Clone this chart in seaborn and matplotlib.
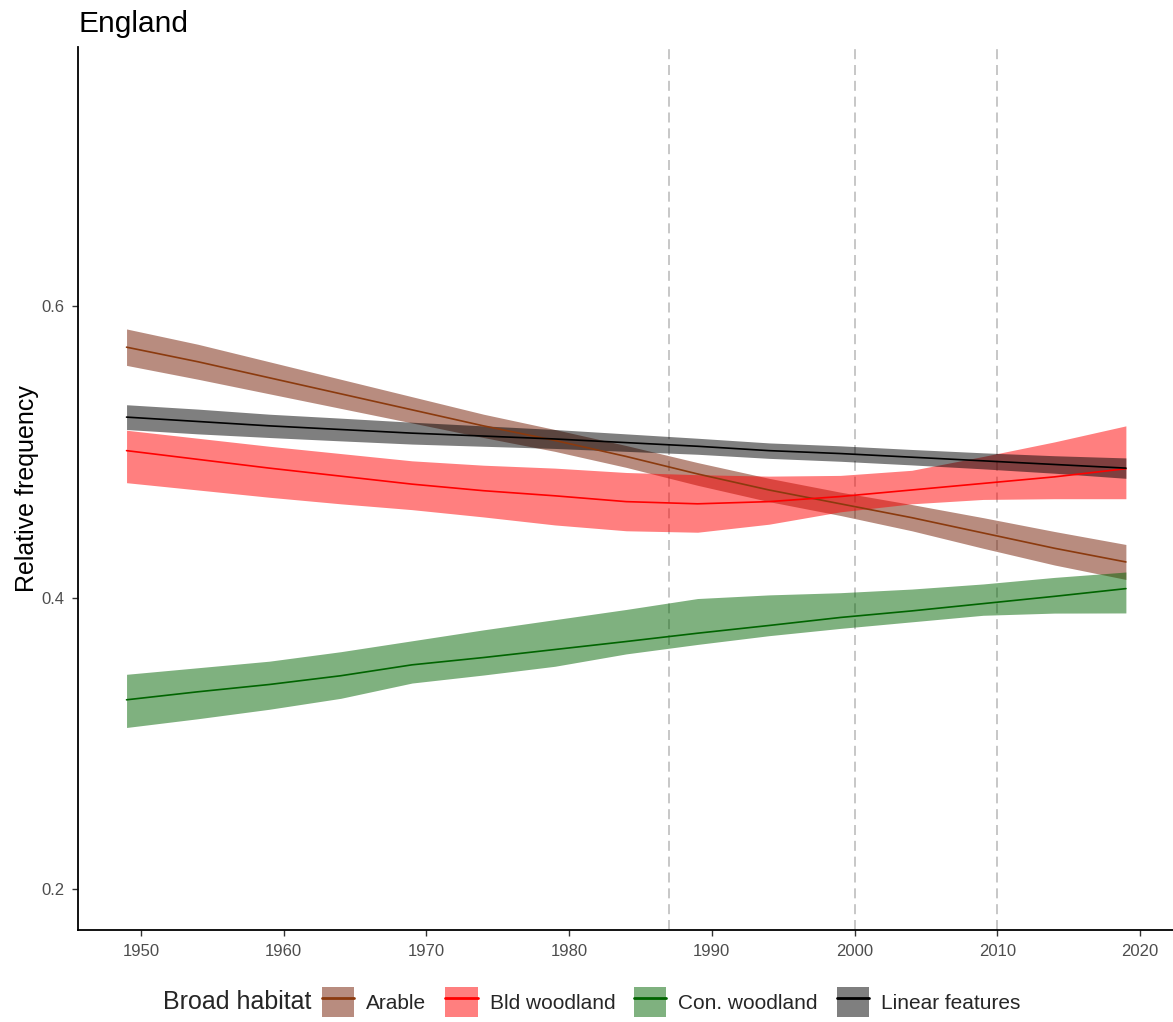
import numpy as np
import pandas as pd
import matplotlib
matplotlib.use("Agg")
import matplotlib.pyplot as plt
from matplotlib.patches import Patch
from matplotlib.lines import Line2D
import seaborn as sns

# Modelled relative frequency by broad habitat (fit with confidence band)
years = [1949, 1954, 1959, 1964, 1969, 1974, 1979, 1984, 1989, 1994, 1999, 2004, 2009, 2014, 2019]

arable_fit = [0.572, 0.562, 0.551, 0.540, 0.529, 0.518, 0.508, 0.497, 0.485, 0.474, 0.4645, 0.455, 0.4445, 0.434, 0.4246]
arable_lo = [0.5595, 0.550, 0.540, 0.530, 0.520, 0.510, 0.5005, 0.4895, 0.4772, 0.466, 0.4565, 0.446, 0.434, 0.4225, 0.4126]
arable_hi = [0.5845, 0.574, 0.562, 0.550, 0.538, 0.526, 0.5155, 0.5045, 0.4928, 0.482, 0.4725, 0.464, 0.455, 0.4455, 0.4366]

bld_fit = [0.501, 0.495, 0.489, 0.4835, 0.478, 0.4735, 0.470, 0.466, 0.4645, 0.466, 0.4695, 0.474, 0.4785, 0.483, 0.4886]
bld_lo = [0.479, 0.474, 0.469, 0.4645, 0.4605, 0.4555, 0.450, 0.446, 0.445, 0.4505, 0.459, 0.4645, 0.4675, 0.468, 0.468]
bld_hi = [0.515, 0.5095, 0.504, 0.499, 0.494, 0.491, 0.489, 0.486, 0.4845, 0.4835, 0.484, 0.4875, 0.497, 0.507, 0.518]

con_fit = [0.330, 0.3355, 0.3405, 0.3465, 0.354, 0.359, 0.3645, 0.370, 0.3757, 0.381, 0.3865, 0.391, 0.396, 0.401, 0.4063]
con_lo = [0.311, 0.317, 0.3235, 0.331, 0.3415, 0.347, 0.353, 0.3615, 0.368, 0.374, 0.379, 0.3835, 0.388, 0.3895, 0.3896]
con_hi = [0.3475, 0.352, 0.3565, 0.363, 0.3705, 0.378, 0.385, 0.392, 0.3995, 0.402, 0.4035, 0.406, 0.4095, 0.414, 0.4177]

lin_fit = [0.524, 0.521, 0.518, 0.5155, 0.513, 0.511, 0.509, 0.5065, 0.504, 0.501, 0.499, 0.4965, 0.494, 0.4915, 0.489]
lin_lo = [0.5155, 0.5125, 0.510, 0.5077, 0.5055, 0.504, 0.5025, 0.5005, 0.4985, 0.4957, 0.4937, 0.4912, 0.4885, 0.4855, 0.482]
lin_hi = [0.5325, 0.5295, 0.526, 0.5233, 0.5205, 0.518, 0.5155, 0.5125, 0.5095, 0.5063, 0.5043, 0.5018, 0.4995, 0.4975, 0.496]

habitats = ["Arable", "Bld woodland", "Con. woodland", "Linear features"]
line_colors = ["#8B3A0E", "#FF0000", "#006400", "#000000"]
fill_colors = ["#731A00", "#FF0000", "#006400", "#000000"]

breakpoints = [1987, 2000, 2010]

series = {
    "Arable": (arable_fit, arable_lo, arable_hi),
    "Bld woodland": (bld_fit, bld_lo, bld_hi),
    "Con. woodland": (con_fit, con_lo, con_hi),
    "Linear features": (lin_fit, lin_lo, lin_hi),
}

frames = []
for name in habitats:
    fit, lo, hi = series[name]
    frames.append(pd.DataFrame({"year": years, "fit": fit, "lo": lo, "hi": hi, "habitat": name}))
df = pd.concat(frames, ignore_index=True)

sns.set_style("ticks")
plt.rcParams["font.family"] = ["Liberation Sans", "DejaVu Sans"]

fig = plt.figure(figsize=(11.73, 10.22), dpi=100)
ax = fig.add_axes([0.0665, 0.090, 0.9335, 0.864])

# confidence ribbons
for name, fc in zip(habitats, fill_colors):
    sub = df[df["habitat"] == name]
    ax.fill_between(sub["year"], sub["lo"], sub["hi"], color=fc, alpha=0.5, linewidth=0, zorder=1)

# fitted lines
sns.lineplot(data=df, x="year", y="fit", hue="habitat", hue_order=habitats,
             palette=dict(zip(habitats, line_colors)), linewidth=1.2,
             legend=False, ax=ax, zorder=2)

for yr in breakpoints:
    ax.axvline(yr, color="#BEBEBE", linestyle=(0, (6, 3.5)), linewidth=1.2, zorder=0)

ax.set_xlim(1945.6, 2022.3)
ax.set_ylim(0.172, 0.778)
ax.set_xticks([1950, 1960, 1970, 1980, 1990, 2000, 2010, 2020])
ax.set_yticks([0.2, 0.4, 0.6])
ax.set_yticklabels(["0.2", "0.4", "0.6"])
ax.set_xlabel("")
ax.set_ylabel("Relative frequency", fontsize=18, color="black")
ax.yaxis.set_label_coords(-0.036, 0.5)
ax.tick_params(axis="both", labelsize=12, colors="#4D4D4D", length=4, width=1.0, pad=6)
ax.tick_params(axis="both", color="#333333")

sns.despine(ax=ax)
for side in ["left", "bottom"]:
    ax.spines[side].set_linewidth(1.3)
    ax.spines[side].set_color("black")

ax.set_title("England", loc="left", fontsize=21.5, pad=11, color="black")

# legend at the bottom, title to the left of the keys
handles = [(Patch(facecolor=fc, alpha=0.5, edgecolor="none"), Line2D([], [], color=lc, linewidth=2.0))
           for fc, lc in zip(fill_colors, line_colors)]
fig.text(0.139, 0.0196, "Broad habitat", fontsize=18, va="center", ha="left")
fig.legend(handles, habitats, loc="center left", bbox_to_anchor=(0.2745, 0.0196),
           ncol=4, frameon=False, fontsize=15, handlelength=1.55, handleheight=1.9,
           handletextpad=0.58, columnspacing=0.9, borderpad=0, borderaxespad=0)

fig.savefig("out.png", dpi=100)
